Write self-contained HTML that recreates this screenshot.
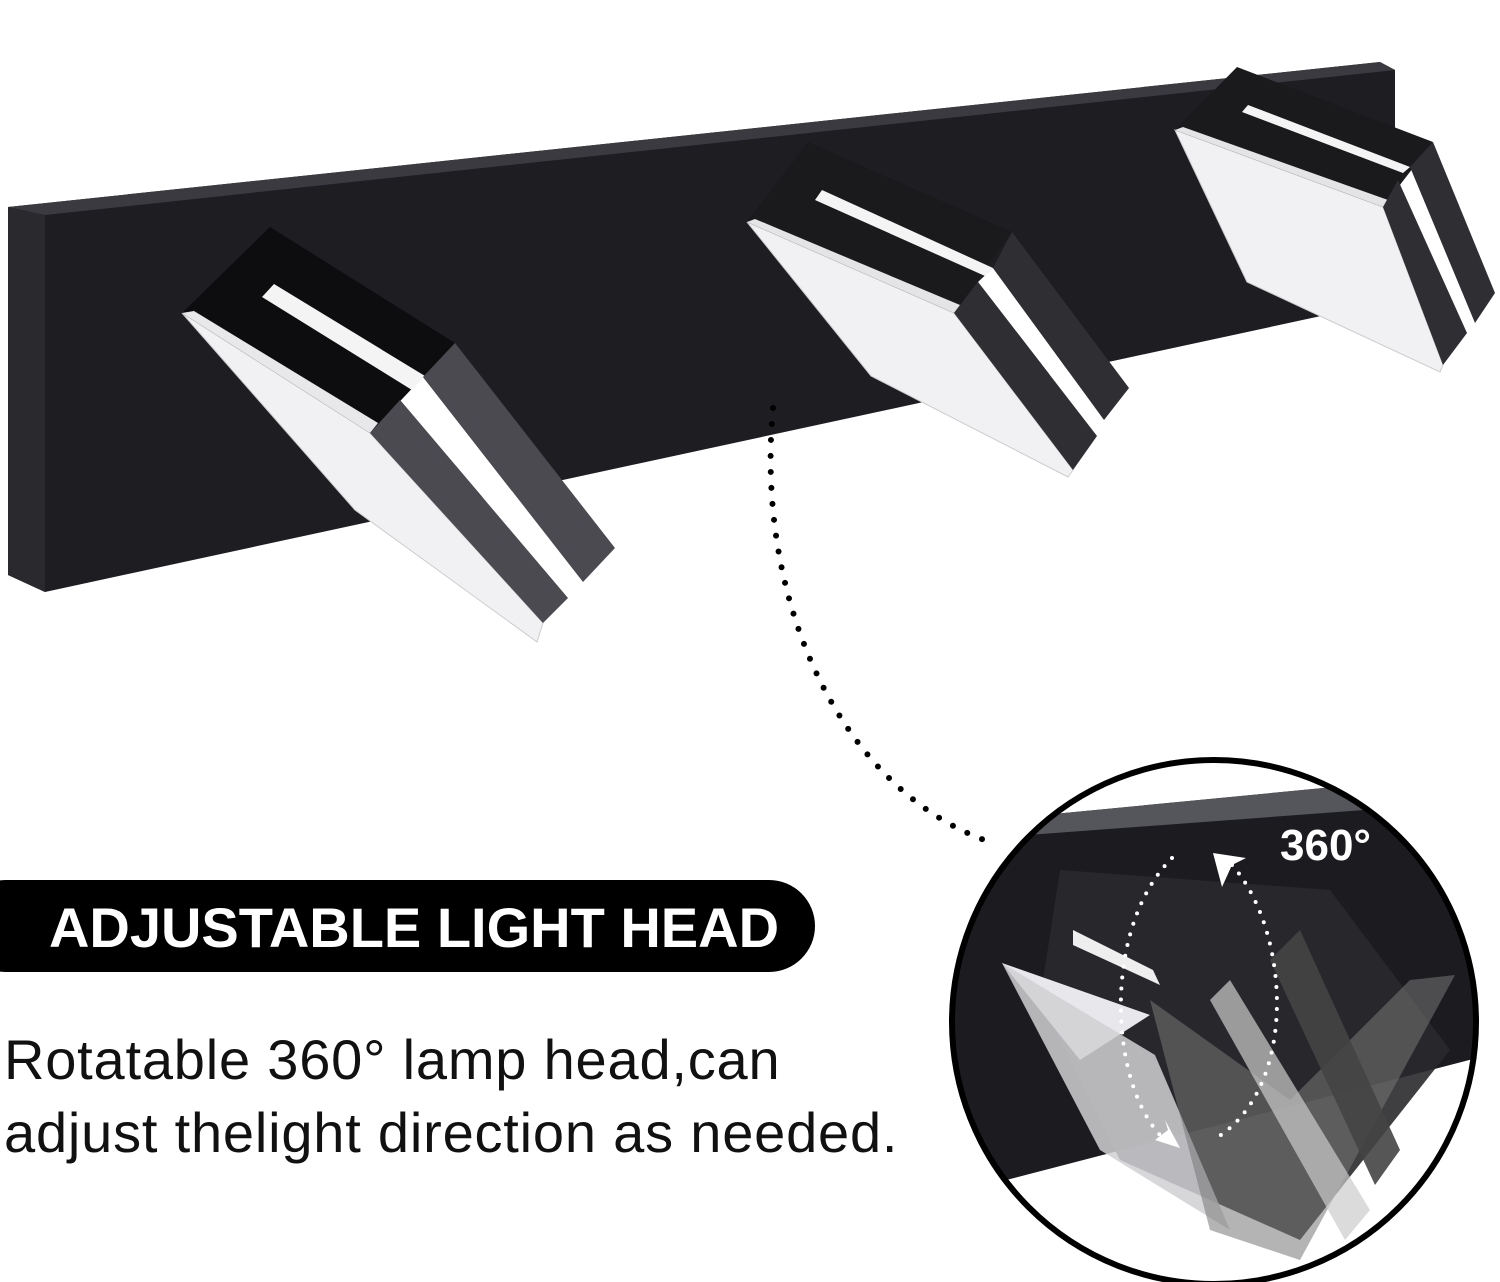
<!DOCTYPE html>
<html><head><meta charset="utf-8"><style>
html,body{margin:0;padding:0;background:#fff;}
body{width:1500px;height:1282px;position:relative;overflow:hidden;font-family:"Liberation Sans",sans-serif;}
.t{position:absolute;left:4px;font-size:56px;color:#111;white-space:nowrap;letter-spacing:0.8px;}
</style></head><body>
<svg width="1500" height="1282" style="position:absolute;left:0;top:0">
<defs>
<clipPath id="cc"><circle cx="1214" cy="1022" r="262"/></clipPath>
</defs>
<!-- bar -->
<polygon points="8,207 1380,62 1395,70 1395,300 45,592 8,575" fill="#1e1e22"/>
<polygon points="8,207 1380,62 1395,70 45,215" fill="#3a3a40"/>
<polygon points="8,207 45,215 45,592 8,575" fill="#2a2a2e"/>

<!-- head 3 -->
<g>
<polygon points="1398,180 1410,167 1475,323 1467,333" fill="#fff"/>
<polygon points="1175,130 1383,207 1443,365 1440,372 1247,282" fill="#f1f1f3" stroke="#ccc" stroke-width="1"/>
<polygon points="1237,67 1433,142 1383,207 1175,130" fill="#1a1a1d"/>
<polygon points="1175,130 1183,127 1388,200 1383,207" fill="#e4e4e6"/>
<polygon points="1242,112 1248,105 1410,167 1403,173" fill="#f4f4f4"/>
<polygon points="1383,207 1398,180 1467,333 1443,365" fill="#2e2e33"/>
<polygon points="1410,167 1433,142 1495,293 1475,323" fill="#2e2e33"/>
</g>
<!-- head 2 -->
<g>
<polygon points="978,282 993,268 1104,420 1097,436" fill="#fff"/>
<polygon points="747,222 954,313 1073,470 1068,477 871,376" fill="#f1f1f3" stroke="#ccc" stroke-width="1"/>
<polygon points="808,142 1012,232 954,313 747,222" fill="#1a1a1d"/>
<polygon points="747,222 755,219 960,305 954,313" fill="#e4e4e6"/>
<polygon points="815,200 822,190 993,268 985,276" fill="#f4f4f4"/>
<polygon points="954,313 978,282 1097,436 1073,470" fill="#2e2e33"/>
<polygon points="993,268 1012,232 1129,388 1104,420" fill="#2e2e33"/>
</g>
<!-- head 1 -->
<g>
<polygon points="400,400 423,377 583,582 568,598" fill="#fff"/>
<polygon points="182,313 370,433 543,623 537,642 355,510" fill="#f1f1f3" stroke="#ccc" stroke-width="1"/>
<polygon points="270,227 455,343 370,433 182,313" fill="#0d0d0f"/>
<polygon points="182,313 194,311 378,423 370,433" fill="#e8e8ea"/>
<polygon points="262,297 274,284 425,376 412,390" fill="#f4f4f4"/>
<polygon points="370,433 400,400 568,598 543,623" fill="#4a4a50"/>
<polygon points="423,377 455,343 615,548 583,582" fill="#4a4a50"/>
</g>
<!-- dotted arc -->
<path d="M773,408 C755,600 840,790 990,842" fill="none" stroke="#000" stroke-width="6" stroke-linecap="round" stroke-dasharray="0 16"/>
<!-- circle content -->
<g clip-path="url(#cc)">
  <polygon points="940,825 1386,782 1500,790 1500,1052 960,1192" fill="#1c1c20"/>
  <polygon points="940,825 1386,782 1500,790 1500,800 960,840" fill="#55555c"/>
  <polygon points="1060,870 1330,890 1450,1050 1300,1240 1120,1160 1040,1000" fill="#2a2a2e" opacity="0.9"/>
  <polygon points="1002,963 1150,1015 1080,1060" fill="#e8e8ec"/>
  <polygon points="1002,963 1155,1055 1230,1230 1100,1150" fill="#d0d0d4" opacity="0.85"/>
  <polygon points="1073,930 1153,970 1160,985 1073,945" fill="#eee"/>
  <polygon points="1150,1000 1290,1100 1410,980 1455,975 1300,1260 1210,1230" fill="#777" opacity="0.55"/>
  <polygon points="1300,930 1400,1150 1375,1185 1270,960" fill="#444" opacity="0.9"/>
  <polygon points="1230,980 1370,1210 1345,1240 1210,1000" fill="#ccc" opacity="0.7"/>
  <path d="M1172,858 C1100,930 1110,1090 1165,1140" fill="none" stroke="#fff" stroke-width="4" stroke-linecap="round" stroke-dasharray="0 11"/>
  <path d="M1232,865 C1290,930 1300,1090 1213,1140" fill="none" stroke="#fff" stroke-width="4" stroke-linecap="round" stroke-dasharray="0 11"/>
  <polygon points="1213,853 1246,858 1232,865 1222,887" fill="#fff"/>
  <polygon points="1180,1148 1155,1140 1168,1130 1165,1120" fill="#fff"/>
  <text x="1280" y="860" font-family="Liberation Sans, sans-serif" font-weight="bold" font-size="44" fill="#fff">360°</text>
</g>
<circle cx="1214" cy="1022" r="262" fill="none" stroke="#000" stroke-width="6"/>
<!-- pill -->
<rect x="-40" y="880" width="855" height="92" rx="46" fill="#000"/>
<text x="414" y="947" text-anchor="middle" font-family="Liberation Sans, sans-serif" font-weight="bold" font-size="56" fill="#fff">ADJUSTABLE LIGHT HEAD</text>
</svg>
<div class="t" style="top:1027px">Rotatable 360° lamp head,can</div>
<div class="t" style="top:1100px">adjust thelight direction as needed.</div>
</body></html>
